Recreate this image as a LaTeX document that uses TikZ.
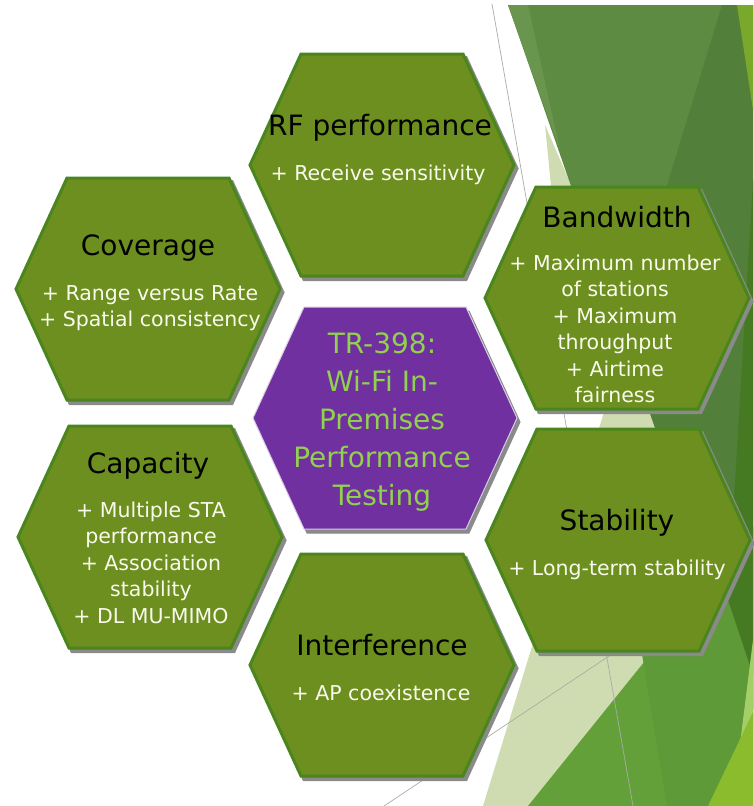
\documentclass[tikz,border=0pt]{standalone}
\usepackage{fontspec}
\setmainfont{DejaVu Sans}
\usetikzlibrary{calc}

\definecolor{hexgreen}{HTML}{6C8F1F}
\definecolor{hexborder}{HTML}{4B851E}
\definecolor{hexshadow}{HTML}{8A8A8A}
\definecolor{hubpurple}{HTML}{7030A0}
\definecolor{hubborder}{HTML}{D9CCE6}
\definecolor{hubtext}{HTML}{92D050}
\definecolor{notetext}{HTML}{FAFAEC}
\definecolor{facetpale}{HTML}{CFDCB1}
\definecolor{facetmid}{HTML}{5E8B42}
\definecolor{facetsoft}{HTML}{6A954F}
\definecolor{facetdark}{HTML}{52803A}
\definecolor{facetdeep}{HTML}{457A22}
\definecolor{facetgrass}{HTML}{63A03A}
\definecolor{facetgrasstwo}{HTML}{5E9A37}
\definecolor{facetlight}{HTML}{A3CF66}
\definecolor{facetlime}{HTML}{8BBC2E}
\definecolor{facetbright}{HTML}{79A82B}
\definecolor{facetline}{HTML}{A8ADA2}

\begin{document}
\begin{tikzpicture}
[x=1pt,y=-1pt,
title/.style={anchor=base,inner sep=0pt,font=\fontsize{28}{34}\selectfont},
note/.style={anchor=base,inner sep=0pt,align=center,text=notetext,font=\fontsize{20.5}{26.5}\selectfont},
hub/.style={anchor=base,inner sep=0pt,align=center,text=hubtext,font=\fontsize{28}{38}\selectfont},
]

%Hexagon size
\def\hexw{132}
\def\hexh{111}
\def\hext{81}

%Page
\useasboundingbox (0,0) rectangle (753,806);
\fill[white] (0,0) rectangle (753,806);

%Background facets
\fill[facetpale] (545,125) -- (576,196) -- (552,196) -- cycle;
\fill[facetpale] (620,360) -- (700,360) -- (753,700) -- (753,806) -- (483,806) -- cycle;
\fill[facetmid] (508,5) -- (753,5) -- (753,709) -- cycle;
\fill[facetsoft] (508,5) -- (528,5) -- (560,150) -- cycle;
\fill[facetdark] (722,5) -- (753,5) -- (753,709) -- (622,333) -- cycle;
\fill[facetbright] (737,5) -- (753,5) -- (753,110) -- cycle;
\fill[facetgrass] (528,806) -- (753,527) -- (753,806) -- cycle;
\fill[facetgrasstwo] (641,648) -- (753,527) -- (753,806) -- (667,806) -- cycle;
\fill[facetdeep] (753,180) -- (753,675) -- (728,600) -- cycle;
\fill[facetlight] (753,640) -- (753,730) -- (738,760) -- cycle;
\fill[facetlime] (753,712) -- (753,806) -- (708,806) -- cycle;

%Thin lines
\draw[facetline,line width=0.7pt] (492,4) -- (633,806);
\draw[facetline,line width=0.7pt] (612,654) -- (384,806);

%Drawing hexagons
\foreach \cx/\cy in {382/165,148/289,617/298,150/537,618/540,382/665}{
  \filldraw[hexshadow,line width=3pt,shift={(\cx+3,\cy+3.5)}]
    (-\hexw,0) -- (-\hext,-\hexh) -- (\hext,-\hexh) -- (\hexw,0) -- (\hext,\hexh) -- (-\hext,\hexh) -- cycle;
  \filldraw[fill=hexgreen,draw=hexborder,line width=3pt,shift={(\cx,\cy)}]
    (-\hexw,0) -- (-\hext,-\hexh) -- (\hext,-\hexh) -- (\hexw,0) -- (\hext,\hexh) -- (-\hext,\hexh) -- cycle;
}

%Centre hexagon
\filldraw[hexshadow,line width=1pt,shift={(388,422)}]
  (-\hexw,0) -- (-\hext,-\hexh) -- (\hext,-\hexh) -- (\hexw,0) -- (\hext,\hexh) -- (-\hext,\hexh) -- cycle;
\filldraw[fill=hubpurple,draw=hubborder,line width=1pt,shift={(385,418)}]
  (-\hexw,0) -- (-\hext,-\hexh) -- (\hext,-\hexh) -- (\hexw,0) -- (\hext,\hexh) -- (-\hext,\hexh) -- cycle;

%Labels (multi-line notes sit on the baseline of their last line)
\node[title] (rf) at (380,135) {RF performance};
\node[note] (rfnote) at (378,180) {+ Receive sensitivity};

\node[title] (coverage) at (148,255) {Coverage};
\node[note] (coveragenote) at (150,326.5) {+ Range versus Rate\\+ Spatial consistency};

\node[title] (bandwidth) at (617,227) {Bandwidth};
\node[note] (bandwidthnote) at (615,402.5) {+ Maximum number\\of stations\\+ Maximum\\throughput\\+ Airtime\\fairness};

\node[hub] (hub) at (382,505) {TR-398:\\Wi-Fi In-\\Premises\\Performance\\Testing};

\node[title] (capacity) at (148,473) {Capacity};
\node[note] (capacitynote) at (151,623) {+ Multiple STA\\performance\\+ Association\\stability\\+ DL MU-MIMO};

\node[title] (stability) at (617,530) {Stability};
\node[note] (stabilitynote) at (617,575) {+ Long-term stability};

\node[title] (interference) at (382,655) {Interference};
\node[note] (interferencenote) at (381,700) {+ AP coexistence};

\end{tikzpicture}
\end{document}
